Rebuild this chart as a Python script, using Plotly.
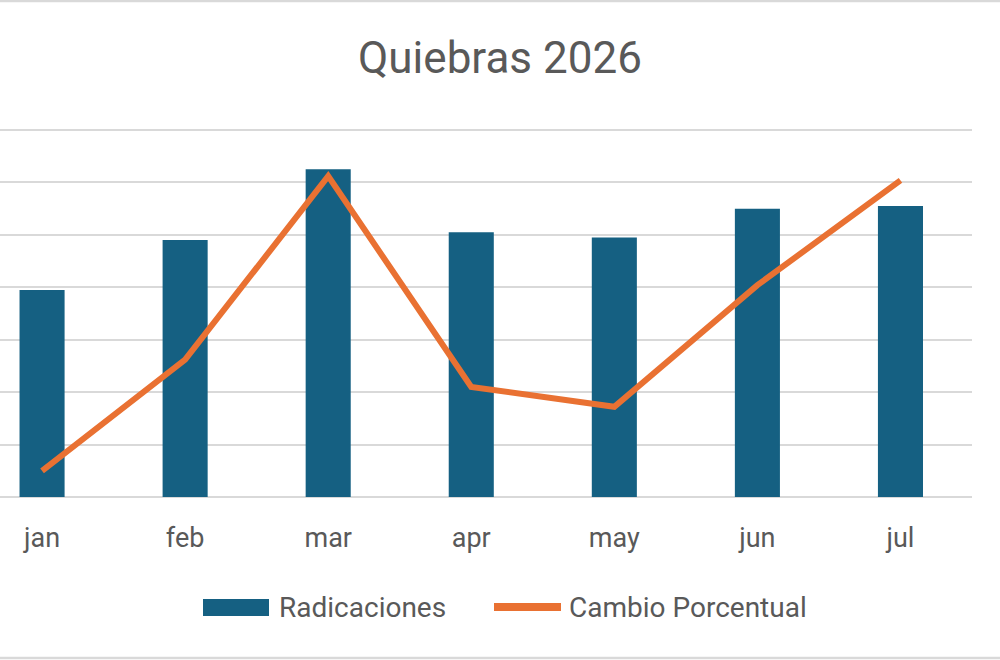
import plotly.graph_objects as go

meses = ["jan", "feb", "mar", "apr", "may", "jun", "jul"]
radicaciones = [79, 98, 125, 101, 99, 110, 111]
cambio_porcentual = [2.5, 13.1, 30.6, 10.5, 8.6, 20.2, 30.2]
series = ["Radicaciones", "Cambio Porcentual"]

fuente = "Roboto"
gris = "#595959"
azul = "#156082"
naranja = "#E97132"

# area de trazado en pixeles (un poco por encima de la ultima linea de rejilla)
top, bottom, left, right = 125, 497, 0, 972
h_plot = bottom - top
w_plot = right - left
y_max = 140 * h_plot / 367
y2_max = 35 * h_plot / 367


def px_x(x):
    return (x - left) / w_plot


def px_y(y):
    return (bottom - y) / h_plot


fig = go.Figure()
fig.add_trace(go.Bar(x=meses, y=radicaciones, name=series[0], showlegend=False,
                     marker=dict(color=azul, line=dict(width=0))))
fig.add_trace(go.Scatter(x=meses, y=cambio_porcentual, name=series[1],
                         mode="lines", yaxis="y2", showlegend=False,
                         line=dict(color=naranja, width=6)))

fig.update_layout(
    width=1000, height=660,
    paper_bgcolor="white", plot_bgcolor="white",
    margin=dict(l=left, r=1000 - right, t=top, b=660 - bottom),
    font=dict(family=fuente, color=gris, size=27),
    title=dict(text="Quiebras 2026", x=0.5, xref="container", xanchor="center",
               y=1 - 58 / 660, yanchor="middle",
               font=dict(size=44, color=gris, family=fuente)),
    bargap=0.685,
    xaxis=dict(range=[-0.294, 6.5], showgrid=False, showline=False,
               ticks="", tickfont=dict(size=27, color=gris),
               ticklabelstandoff=22),
    yaxis=dict(range=[0, y_max], dtick=20, showticklabels=False,
               gridcolor="#d9d9d9", gridwidth=1.5, zeroline=True,
               zerolinecolor="#d9d9d9", zerolinewidth=1.5, ticks=""),
    yaxis2=dict(range=[0, y2_max], overlaying="y", side="right",
                showticklabels=False, showgrid=False, zeroline=False),
    showlegend=False,
)

# leyenda inferior
ly = px_y(607)
fig.add_shape(type="rect", xref="paper", yref="paper",
              x0=px_x(203), x1=px_x(269), y0=px_y(616), y1=px_y(599),
              fillcolor=azul, line=dict(width=0))
fig.add_annotation(text=series[0], xref="paper", yref="paper", x=px_x(277), y=ly,
                   xanchor="left", yanchor="middle", showarrow=False,
                   font=dict(size=28, color=gris, family=fuente))
fig.add_shape(type="line", xref="paper", yref="paper",
              x0=px_x(494), x1=px_x(561), y0=ly, y1=ly,
              line=dict(color=naranja, width=8))
fig.add_annotation(text=series[1], xref="paper", yref="paper", x=px_x(567), y=ly,
                   xanchor="left", yanchor="middle", showarrow=False,
                   font=dict(size=28, color=gris, family=fuente))

# borde del area del grafico (arriba y abajo)
for yb in (1, 658):
    fig.add_shape(type="line", xref="paper", yref="paper", x0=-0.01, x1=1.05,
                  y0=px_y(yb), y1=px_y(yb),
                  line=dict(color="#d9d9d9", width=2.5))

fig.write_html("out.html", config={"displayModeBar": False},
               post_script="document.body.style.margin='0';")
